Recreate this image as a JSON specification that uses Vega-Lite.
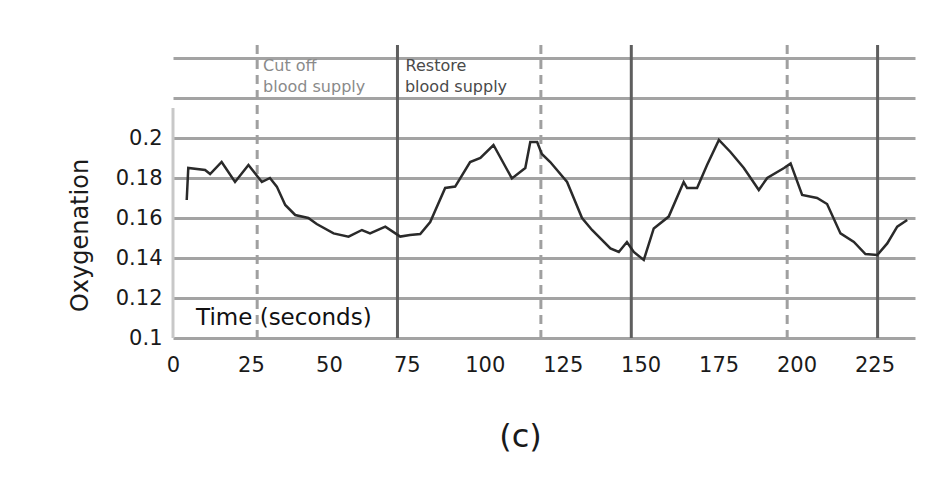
{
  "$schema": "https://vega.github.io/schema/vega-lite/v6.json",
  "width": 742,
  "height": 293,
  "autosize": {"type": "none"},
  "padding": {"left": 173, "top": 45, "right": 23, "bottom": 144},
  "background": "white",
  "config": {"view": {"stroke": null}, "font": "DejaVu Sans"},
  "datasets": {
    "series": [
      {"t": 4.4, "o": 0.169}, {"t": 4.9, "o": 0.185}, {"t": 10.3, "o": 0.184}, {"t": 11.9, "o": 0.182},
      {"t": 15.6, "o": 0.188}, {"t": 19.9, "o": 0.178}, {"t": 24.2, "o": 0.1865}, {"t": 28.5, "o": 0.178},
      {"t": 31.1, "o": 0.180}, {"t": 33.3, "o": 0.1757}, {"t": 36, "o": 0.1665}, {"t": 39.2, "o": 0.1615},
      {"t": 43.4, "o": 0.160}, {"t": 46.1, "o": 0.157}, {"t": 51.5, "o": 0.1523}, {"t": 56.3, "o": 0.1507},
      {"t": 60.6, "o": 0.154}, {"t": 63.2, "o": 0.1523}, {"t": 68.1, "o": 0.1557}, {"t": 72.9, "o": 0.1507},
      {"t": 76, "o": 0.1515}, {"t": 79.3, "o": 0.152}, {"t": 82.5, "o": 0.158}, {"t": 87.3, "o": 0.175},
      {"t": 90.5, "o": 0.1757}, {"t": 95.3, "o": 0.188}, {"t": 98.6, "o": 0.190}, {"t": 102.8, "o": 0.1965},
      {"t": 108.7, "o": 0.1798}, {"t": 113, "o": 0.185}, {"t": 114.6, "o": 0.198}, {"t": 116.8, "o": 0.198},
      {"t": 118.3, "o": 0.192}, {"t": 121, "o": 0.188}, {"t": 126.4, "o": 0.178}, {"t": 131.2, "o": 0.160},
      {"t": 134.4, "o": 0.154}, {"t": 140.3, "o": 0.1448}, {"t": 143, "o": 0.143}, {"t": 145.6, "o": 0.148},
      {"t": 147.8, "o": 0.143}, {"t": 151, "o": 0.139}, {"t": 154.2, "o": 0.1548}, {"t": 159, "o": 0.1607},
      {"t": 163.8, "o": 0.178}, {"t": 164.9, "o": 0.175}, {"t": 168.1, "o": 0.175}, {"t": 171.3, "o": 0.1865},
      {"t": 175.1, "o": 0.199}, {"t": 178.8, "o": 0.193}, {"t": 183.1, "o": 0.185}, {"t": 187.9, "o": 0.174},
      {"t": 190.6, "o": 0.180}, {"t": 196, "o": 0.185}, {"t": 198.1, "o": 0.1873}, {"t": 201.8, "o": 0.1715},
      {"t": 206.6, "o": 0.170}, {"t": 209.8, "o": 0.167}, {"t": 214.1, "o": 0.1523}, {"t": 218.4, "o": 0.148},
      {"t": 222.1, "o": 0.142}, {"t": 225.9, "o": 0.1415}, {"t": 229.1, "o": 0.1473}, {"t": 232.3, "o": 0.1557},
      {"t": 235.5, "o": 0.159}
    ],
    "cutoff": [{"t": 27}, {"t": 118}, {"t": 197}],
    "restore": [{"t": 72}, {"t": 147}, {"t": 226}],
    "cutLabel": [{"t": 28.9, "o": 0.2335, "label": "Cut off"}, {"t": 28.9, "o": 0.223, "label": "blood supply"}],
    "restoreLabel": [{"t": 74.6, "o": 0.2335, "label": "Restore"}, {"t": 74.4, "o": 0.223, "label": "blood supply"}],
    "timeLabel": [{"t": 7.4, "o": 0.11, "label": "Time (seconds)"}]
  },
  "layer": [
    {
      "data": {"values": [{}]},
      "mark": {"type": "rule", "color": "#c8c8c8", "strokeWidth": 3},
      "encoding": {
        "x": {"datum": 0, "type": "quantitative"},
        "y": {"datum": 0.1, "type": "quantitative"},
        "y2": {"datum": 0.215}
      }
    },
    {
      "data": {"name": "cutoff"},
      "mark": {"type": "rule", "color": "#a0a0a0", "strokeWidth": 3, "strokeDash": [9, 6]},
      "encoding": {"x": {"field": "t", "type": "quantitative"}}
    },
    {
      "data": {"name": "restore"},
      "mark": {"type": "rule", "color": "#5e5e5e", "strokeWidth": 3},
      "encoding": {"x": {"field": "t", "type": "quantitative"}}
    },
    {
      "data": {"name": "series"},
      "mark": {"type": "line", "color": "#2a2a2a", "strokeWidth": 2.5},
      "encoding": {
        "x": {"field": "t", "type": "quantitative", "scale": {"domain": [0, 238], "nice": false, "zero": false},
          "axis": {"values": [0, 25, 50, 75, 100, 125, 150, 175, 200, 225], "grid": false, "ticks": false, "domain": false,
            "labelFontSize": 21, "labelColor": "#1a1a1a", "labelPadding": 16, "labelFlush": false,
            "title": "(c)", "titleFontSize": 32, "titleFontWeight": "normal", "titleColor": "#1a1a1a", "titlePadding": 46, "titleX": 347, "titleAlign": "center"}},
        "y": {"field": "o", "type": "quantitative", "scale": {"domain": [0.1, 0.2465], "nice": false, "zero": false},
          "axis": {"values": [0.1, 0.12, 0.14, 0.16, 0.18, 0.2, 0.22, 0.24], "format": "~g",
            "labelExpr": "datum.value > 0.21 ? '' : datum.label",
            "grid": true, "gridColor": "#a3a3a3", "gridWidth": 3, "ticks": false, "domain": false,
            "labelFontSize": 21, "labelColor": "#1a1a1a", "labelPadding": 11, "labelFlush": false,
            "title": "Oxygenation", "titleFontSize": 24, "titleFontWeight": "normal", "titleColor": "#1a1a1a",
            "titleAngle": -90, "titleX": -93, "titleY": 190, "titleAlign": "center", "titleBaseline": "middle"}}
      }
    },
    {
      "data": {"name": "cutLabel"},
      "mark": {"type": "text", "align": "left", "baseline": "alphabetic", "fontSize": 16, "color": "#8a8a8a"},
      "encoding": {
        "x": {"field": "t", "type": "quantitative"},
        "y": {"field": "o", "type": "quantitative"},
        "text": {"field": "label"}
      }
    },
    {
      "data": {"name": "restoreLabel"},
      "mark": {"type": "text", "align": "left", "baseline": "alphabetic", "fontSize": 16, "color": "#4a4a4a"},
      "encoding": {
        "x": {"field": "t", "type": "quantitative"},
        "y": {"field": "o", "type": "quantitative"},
        "text": {"field": "label"}
      }
    },
    {
      "data": {"name": "timeLabel"},
      "mark": {"type": "text", "align": "left", "baseline": "middle", "fontSize": 23, "color": "#111111"},
      "encoding": {
        "x": {"field": "t", "type": "quantitative"},
        "y": {"field": "o", "type": "quantitative"},
        "text": {"field": "label"}
      }
    }
  ]
}
